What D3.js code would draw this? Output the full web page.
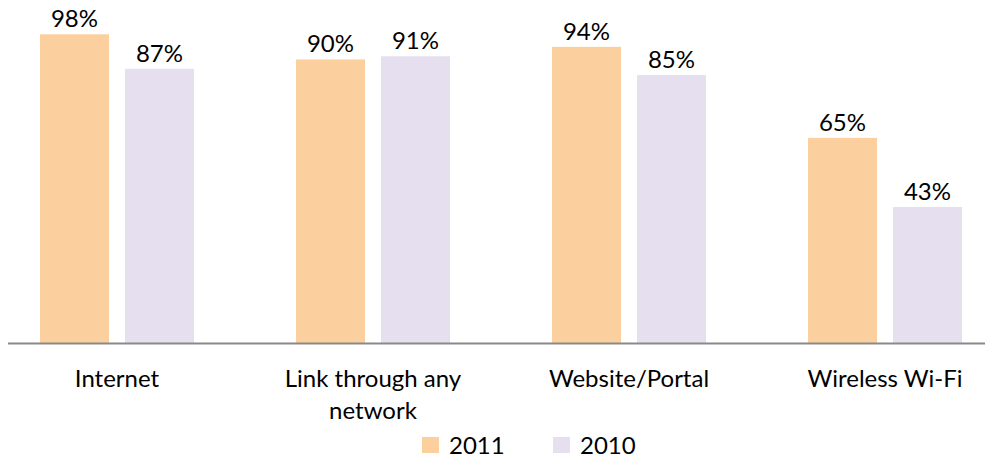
<!DOCTYPE html>
<html>
<head>
<meta charset="utf-8">
<script src="https://cdn.jsdelivr.net/npm/d3@7"></script>
<style>
  html, body { margin: 0; padding: 0; background: #fff; }
  svg { display: block; }
  text { font-family: Lato, "Open Sans", sans-serif; fill: #000; }
</style>
</head>
<body>
<script>
const categories = ["Internet", "Link through any network", "Website/Portal", "Wireless Wi-Fi"];
const categoryLines = [["Internet"], ["Link through any", "network"], ["Website/Portal"], ["Wireless Wi-Fi"]];
const seriesNames = ["2011", "2010"];
const values2011 = [98, 90, 94, 65];
const values2010 = [87, 91, 85, 43];
const seriesColors = ["#FCD09E", "#E5DFEF"];

const W = 985, H = 462;
const fontSize = 24;

const svg = d3.select("body").append("svg").attr("width", W).attr("height", H);

const x = d3.scaleBand().domain(categories).range([-11, 1013]).paddingInner(0).paddingOuter(0);
const xs = d3.scaleBand().domain(seriesNames).range([0, 154]).paddingInner(16 / 85).paddingOuter(0);
const y = d3.scaleLinear().domain([0, 100]).range([342, 28]);

const data = categories.map((c, i) => ({ cat: c, vals: [values2011[i], values2010[i]] }));

const groups = svg.selectAll("g.grp").data(data).join("g")
  .attr("class", "grp")
  .attr("transform", d => `translate(${x(d.cat) + x.bandwidth() / 2 - 77},0)`);

groups.selectAll("rect").data(d => d.vals.map((v, j) => ({ v, s: seriesNames[j], j }))).join("rect")
  .attr("x", d => xs(d.s))
  .attr("width", xs.bandwidth())
  .attr("y", d => y(d.v))
  .attr("height", d => 344 - y(d.v))
  .attr("fill", d => seriesColors[d.j]);

groups.selectAll("text.val").data(d => d.vals.map((v, j) => ({ v, s: seriesNames[j] }))).join("text")
  .attr("class", "val")
  .attr("x", d => xs(d.s) + xs.bandwidth() / 2)
  .attr("y", d => y(d.v) - 7)
  .attr("text-anchor", "middle")
  .attr("font-size", fontSize)
  .text(d => d.v + "%");

// axis baseline
const axis = d3.axisBottom(x).tickSize(0).tickFormat("");
const axG = svg.append("g").attr("transform", "translate(0,343.5)").call(axis);
axG.select(".domain").remove();
svg.append("line").attr("x1", 8).attr("x2", W).attr("y1", 343.5).attr("y2", 343.5)
  .attr("stroke", "#898989").attr("stroke-width", 2);

// category labels
categories.forEach((c, i) => {
  const t = svg.append("text")
    .attr("x", x(c) + x.bandwidth() / 2)
    .attr("y", 387)
    .attr("text-anchor", "middle")
    .attr("font-size", fontSize);
  categoryLines[i].forEach((ln, k) => {
    t.append("tspan").attr("x", x(c) + x.bandwidth() / 2).attr("dy", k === 0 ? 0 : 31.5).text(ln);
  });
});

// legend
const legendX = [422, 553];
seriesNames.forEach((s, i) => {
  svg.append("rect").attr("x", legendX[i]).attr("y", 437).attr("width", 17).attr("height", 16)
    .attr("fill", seriesColors[i]);
  svg.append("text").attr("x", legendX[i] + 27).attr("y", 453.5)
    .attr("font-size", fontSize).text(s);
});
</script>
</body>
</html>
